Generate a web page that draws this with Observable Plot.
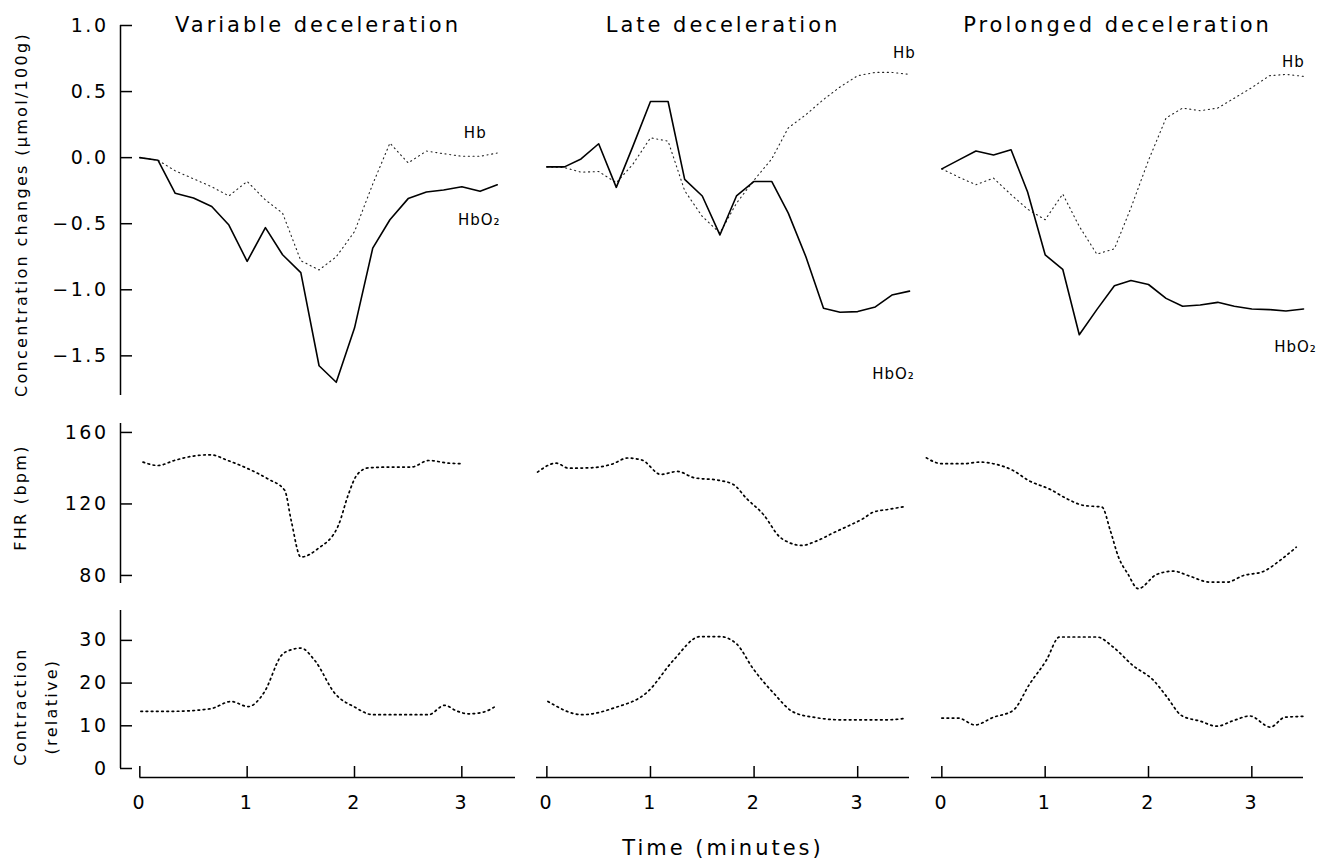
<!DOCTYPE html>
<html><head><meta charset="utf-8">
<script src="https://cdn.jsdelivr.net/npm/d3@7"></script>
<script src="https://cdn.jsdelivr.net/npm/@observablehq/plot@0.6"></script>
<style>
body{margin:0;background:#fff}
#chart{position:relative;width:1326px;height:862px;background:#fff}
#chart svg{position:absolute;left:0;top:0}
</style>
</head><body><div id="chart"></div>
<script>
// ---------- data ----------
const titles = ["Variable deceleration", "Late deceleration", "Prolonged deceleration"];
const xTicks = [0, 1, 2, 3];
const xTickLabels = ["0", "1", "2", "3"];

const concTicks = [1.0, 0.5, 0, -0.5, -1.0, -1.5];
const concTickLabels = ["1.0", "0.5", "0.0", "\u22120.5", "\u22121.0", "\u22121.5"];
const fhrTicks = [160, 120, 80];
const fhrTickLabels = ["160", "120", "80"];
const conTicks = [30, 20, 10, 0];
const conTickLabels = ["30", "20", "10", "0"];
const rowLabels = ["Concentration changes (\u03bcmol/100g)", "FHR (bpm)", "Contraction\n(relative)"];

// NIRS sampling times (minutes)
const timeVar  = [0,0.17,0.33,0.5,0.67,0.83,1,1.17,1.33,1.5,1.67,1.83,2,2.17,2.33,2.5,2.67,2.83,3,3.17,3.33];
const timeLate = [0,0.17,0.33,0.5,0.67,0.83,1,1.17,1.33,1.5,1.67,1.83,2,2.17,2.33,2.5,2.67,2.83,3,3.17,3.33,3.5];
const timeProl = [0,0.17,0.33,0.5,0.67,0.83,1,1.17,1.33,1.5,1.67,1.83,2,2.17,2.33,2.5,2.67,2.83,3,3.17,3.33,3.5];

const hbo2Var  = [0,-0.02,-0.27,-0.305,-0.37,-0.51,-0.785,-0.53,-0.735,-0.87,-1.575,-1.70,-1.29,-0.685,-0.47,-0.31,-0.26,-0.245,-0.22,-0.255,-0.205];
const hbVar    = [0,-0.02,-0.1,-0.16,-0.22,-0.29,-0.18,-0.32,-0.42,-0.78,-0.85,-0.75,-0.56,-0.2,0.11,-0.04,0.05,0.03,0.01,0.01,0.035];
const hbo2Late = [-0.07,-0.07,-0.01,0.105,-0.225,0.085,0.425,0.425,-0.165,-0.29,-0.585,-0.29,-0.18,-0.18,-0.42,-0.75,-1.14,-1.17,-1.165,-1.13,-1.04,-1.01];
const hbLate   = [-0.07,-0.075,-0.11,-0.105,-0.19,-0.05,0.15,0.125,-0.25,-0.445,-0.57,-0.345,-0.17,-0.01,0.225,0.325,0.44,0.535,0.62,0.645,0.645,0.63];
const hbo2Prol = [-0.085,-0.015,0.05,0.02,0.06,-0.26,-0.735,-0.845,-1.34,-1.15,-0.97,-0.93,-0.96,-1.065,-1.125,-1.115,-1.095,-1.125,-1.145,-1.15,-1.16,-1.145];
const hbProl   = [-0.085,-0.15,-0.205,-0.155,-0.28,-0.39,-0.47,-0.275,-0.52,-0.73,-0.69,-0.38,-0.02,0.3,0.375,0.355,0.375,0.45,0.53,0.62,0.63,0.615];

// FHR traces
const fhrTimeVar  = [0.03,0.17,0.32,0.5,0.66,0.82,0.99,1.19,1.35,1.41,1.5,1.66,1.85,1.94,2.02,2.13,2.31,2.53,2.69,2.88,3.0];
const fhrVar      = [143.4,141.5,144.3,146.8,147.5,144.3,140.2,134.1,127.6,110.8,90.3,95,108,124.8,136,140.2,140.6,140.6,144.3,142.8,142.5];
const fhrTimeLate = [-0.09,0.09,0.21,0.42,0.63,0.78,0.92,1.1,1.26,1.42,1.67,1.8,1.93,2.09,2.25,2.33,2.46,2.6,2.76,2.92,3.05,3.15,3.29,3.45];
const fhrLate     = [137.8,142.8,140,140.2,142.3,145.7,144.5,136.5,138.2,134.7,133.1,130.9,122.9,114.1,101.4,98.6,96.8,99.2,103.7,108,111.7,115.4,116.9,118.5];
const fhrTimeProl = [-0.15,0,0.21,0.37,0.53,0.69,0.84,1.05,1.21,1.37,1.55,1.63,1.71,1.8,1.9,2.08,2.24,2.4,2.59,2.76,2.92,3.11,3.27,3.43];
const fhrProl     = [145.8,142.5,142.5,143.4,142.1,138.7,133.1,128.1,122.9,119.2,118.2,105.2,90.2,80.9,72.6,80.6,82.4,79.6,76.3,76.3,80,82.2,88.3,95.8];

// Contraction traces
const conTimeVar  = [0.01,0.32,0.66,0.85,1.01,1.16,1.32,1.41,1.5,1.63,1.82,2.0,2.17,2.69,2.84,2.95,3.06,3.2,3.31];
const conVar      = [13.4,13.4,14.0,15.7,14.5,17.9,26.5,27.8,28.2,25.3,17.5,14.4,12.6,12.6,14.8,13.5,12.8,13.2,14.5];
const conTimeLate = [0.01,0.34,0.65,0.97,1.22,1.48,1.67,1.83,1.99,2.19,2.38,2.6,2.83,3.29,3.45];
const conLate     = [15.7,12.6,14.2,17.9,25.3,30.9,30.9,29.2,23.4,17.6,13.2,11.9,11.4,11.4,11.7];
const conTimeProl = [0,0.16,0.32,0.5,0.69,0.85,1.01,1.14,1.5,1.66,1.85,2.05,2.18,2.32,2.5,2.66,2.82,2.98,3.18,3.32,3.5];
const conProl     = [11.8,11.8,10.2,12.0,13.6,19.8,25.3,30.8,30.8,28.4,24.1,20.6,16.7,12.4,11.1,9.9,11.2,12.3,9.7,12.0,12.2];

// ---------- layout (styles) ----------
const W = 1326, H = 862;
const FONT = "DejaVu Sans";
const spacing = {"21": "3px", "19": "2.5px", "16": "2.3px", "15": "1px"};
const cols = [
  {left: 120, right: 515, domain: [-0.18, 3.5], axisStart: 0},
  {left: 536, right: 909, domain: [-0.1, 3.5], axisStart: -0.1},
  {left: 931, right: 1303, domain: [-0.1, 3.5], axisStart: -0.1}
];
const rows = [
  {top: 25, bottom: 395, domain: [-1.8, 1.0], ticks: concTicks, tickLabels: concTickLabels, labelDx: -99, labelDy: 4, lineHeight: 1},
  {top: 423, bottom: 583, domain: [75.5, 165], ticks: fhrTicks, tickLabels: fhrTickLabels, labelDx: -100, labelDy: -6, lineHeight: 1},
  {top: 610, bottom: 768, domain: [0, 37], ticks: conTicks, tickLabels: conTickLabels, labelDx: -89, labelDy: 17, lineHeight: 1.95}
];
// label offsets relative to last point: [Hb dx, Hb dy, HbO2 dx, HbO2 dy]
const labelOffsets = [[-22, -20, -18, 35], [-5, -21, -16, 83], [-10, -14, -8, 38]];

const zip = (ts, vs) => ts.map((t, i) => ({t, v: vs[i]}));
const nirs = [
  {hbo2: zip(timeVar, hbo2Var), hb: zip(timeVar, hbVar)},
  {hbo2: zip(timeLate, hbo2Late), hb: zip(timeLate, hbLate)},
  {hbo2: zip(timeProl, hbo2Prol), hb: zip(timeProl, hbProl)}
];
const fhr = [zip(fhrTimeVar, fhrVar), zip(fhrTimeLate, fhrLate), zip(fhrTimeProl, fhrProl)];
const con = [zip(conTimeVar, conVar), zip(conTimeLate, conLate), zip(conTimeProl, conProl)];

function cellPlot(col, row, marks) {
  const svg = Plot.plot({
    width: W, height: H,
    marginLeft: col.left, marginRight: W - col.right,
    marginTop: row.top, marginBottom: H - row.bottom,
    x: {domain: col.domain, axis: null},
    y: {domain: row.domain, axis: null},
    style: {background: "transparent", overflow: "visible", fontFamily: FONT, color: "black"},
    marks
  });
  d3.select(svg).selectAll("g[font-size]").attr("letter-spacing", function () {
    return spacing[this.getAttribute("font-size")] || null;
  });
  return svg;
}

const root = document.getElementById("chart");
cols.forEach((col, c) => {
  rows.forEach((row, r) => {
    const marks = [];
    if (r === 0) {
      const d = nirs[c], off = labelOffsets[c];
      marks.push(Plot.line(d.hb, {x: "t", y: "v", stroke: "#222", strokeWidth: 1.1, strokeDasharray: "1.1 3.6"}));
      marks.push(Plot.line(d.hbo2, {x: "t", y: "v", stroke: "black", strokeWidth: 1.6}));
      marks.push(Plot.text(d.hb, Plot.selectLast({x: "t", y: "v", text: () => "Hb", dx: off[0], dy: off[1], fontSize: 15})));
      marks.push(Plot.text(d.hbo2, Plot.selectLast({x: "t", y: "v", text: () => "HbO\u2082", dx: off[2], dy: off[3], fontSize: 15})));
      marks.push(Plot.text([titles[c]], {frameAnchor: "top", textAnchor: "middle", lineAnchor: "bottom", dy: 6, fontSize: 21}));
    } else {
      const d = r === 1 ? fhr[c] : con[c];
      marks.push(Plot.line(d, {x: "t", y: "v", curve: "monotone-x", stroke: "black", strokeWidth: 1.7, strokeDasharray: "1.6 3.6"}));
    }
    if (c === 0) {
      marks.push(Plot.ruleX([col.domain[0]], {stroke: "black", strokeWidth: 1.5}));
      marks.push(Plot.tickY(row.ticks, {y: d => d, insetRight: (col.right - col.left) - 12, stroke: "black", strokeWidth: 1.5}));
      marks.push(Plot.text(row.ticks, {y: d => d, text: (d, i) => row.tickLabels[i], frameAnchor: "left", textAnchor: "end", lineAnchor: "middle", dx: -12, fontSize: 19}));
      marks.push(Plot.text([rowLabels[r]], {frameAnchor: "left", textAnchor: "middle", rotate: -90, lineAnchor: "middle", lineHeight: row.lineHeight, dx: row.labelDx, dy: row.labelDy, fontSize: 16}));
    }
    if (r === 2) {
      marks.push(Plot.ruleY([row.domain[0]], {x1: col.axisStart, x2: col.domain[1], dy: 9, stroke: "black", strokeWidth: 1.5}));
      marks.push(Plot.tickX(xTicks, {x: d => d, insetTop: (row.bottom - row.top) - 11, dy: 9, stroke: "black", strokeWidth: 1.5}));
      marks.push(Plot.text(xTicks, {x: d => d, text: (d, i) => xTickLabels[i], frameAnchor: "bottom", textAnchor: "middle", lineAnchor: "middle", dy: 34, fontSize: 19}));
      if (c === 1) {
        marks.push(Plot.text(["Time (minutes)"], {frameAnchor: "bottom", textAnchor: "middle", lineAnchor: "middle", dy: 80, fontSize: 21}));
      }
    }
    root.appendChild(cellPlot(col, row, marks));
  });
});
</script>
</body></html>
